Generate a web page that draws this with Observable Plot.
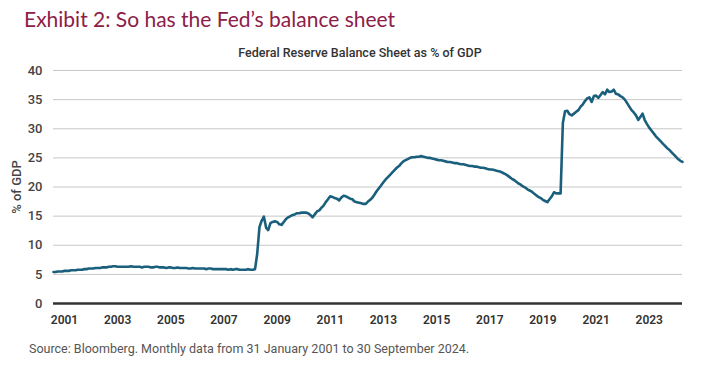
<!DOCTYPE html>
<html>
<head>
<meta charset="utf-8">
<script src="https://cdn.jsdelivr.net/npm/d3@7"></script>
<script src="https://cdn.jsdelivr.net/npm/@observablehq/plot@0.6"></script>
<style>
  html, body { margin: 0; padding: 0; background: #fff; }
  #wrap { position: relative; width: 702px; height: 376px; overflow: hidden; font-family: Roboto, "Noto Sans", sans-serif; }
  #title { position: absolute; left: 24px; top: 6px; font-family: Lato, Roboto, sans-serif; font-size: 21px; color: #8c2047; white-space: nowrap; }
  #subtitle { position: absolute; left: 0; width: 720px; top: 45px; text-align: center; font-size: 12.5px; font-weight: 500; color: #333; white-space: nowrap; }
  #chart { position: absolute; left: 0; top: 62px; }
  #source { position: absolute; left: 29px; top: 341px; font-size: 12.5px; color: #555; white-space: nowrap; }
</style>
</head>
<body>
<div id="wrap">
  <div id="title">Exhibit 2: So has the Fed’s balance sheet</div>
  <div id="subtitle">Federal Reserve Balance Sheet as % of GDP</div>
  <div id="chart"></div>
  <div id="source">Source: Bloomberg. Monthly data from 31 January 2001 to 30 September 2024.</div>
</div>
<script>
// Federal Reserve balance sheet, % of GDP, month-end values Jan 2001 .. Sep 2024
const startYear = 2001;
const values2001 = [5.4,5.4,5.5,5.5,5.5,5.6,5.6,5.6,5.7,5.7,5.7,5.8];
const values2002 = [5.8,5.8,5.9,5.9,6.0,6.0,6.0,6.1,6.1,6.1,6.2,6.2];
const values2003 = [6.2,6.3,6.3,6.4,6.4,6.3,6.3,6.3,6.3,6.3,6.3,6.4];
const values2004 = [6.3,6.3,6.3,6.3,6.2,6.3,6.3,6.3,6.2,6.2,6.3,6.3];
const values2005 = [6.2,6.2,6.2,6.1,6.2,6.2,6.1,6.1,6.2,6.1,6.1,6.1];
const values2006 = [6.1,6.0,6.0,6.1,6.0,6.0,6.0,6.0,6.0,5.9,6.0,6.0];
const values2007 = [5.9,5.9,5.9,5.9,5.9,5.9,5.9,5.8,5.9,5.8,5.9,5.9];
const values2008 = [5.8,5.8,5.8,5.8,5.9,5.8,5.8,5.9,8.5,13.1,14.2,14.9];
const values2009 = [13.0,12.6,13.8,14.0,14.1,14.0,13.6,13.5,14.0,14.5,14.8,15.0];
const values2010 = [15.2,15.3,15.5,15.5,15.6,15.6,15.6,15.5,15.2,14.8,15.3,15.8];
const values2011 = [16.0,16.4,16.8,17.4,17.9,18.4,18.3,18.1,18.0,17.7,18.2,18.5];
const values2012 = [18.4,18.2,18.0,17.9,17.5,17.4,17.3,17.2,17.1,17.1,17.5,17.8];
const values2013 = [18.2,18.7,19.3,19.8,20.3,20.8,21.3,21.7,22.1,22.5,22.9,23.3];
const values2014 = [23.6,24.0,24.4,24.6,24.8,25.0,25.1,25.1,25.2,25.2,25.3,25.2];
const values2015 = [25.1,25.0,25.0,24.9,24.8,24.7,24.6,24.6,24.5,24.4,24.3,24.3];
const values2016 = [24.2,24.1,24.1,24.0,23.9,23.9,23.8,23.7,23.6,23.6,23.5,23.5];
const values2017 = [23.4,23.3,23.3,23.2,23.1,23.0,23.0,22.9,22.8,22.7,22.6,22.4];
const values2018 = [22.2,22.0,21.7,21.4,21.2,20.9,20.6,20.4,20.1,19.9,19.6,19.4];
const values2019 = [19.2,18.9,18.6,18.3,18.1,17.8,17.6,17.4,17.9,18.4,19.1,18.9];
const values2020 = [18.9,18.9,31.0,33.0,33.1,32.5,32.3,32.6,32.9,33.2,33.8,34.2];
const values2021 = [34.8,35.2,35.4,34.6,35.6,35.7,35.3,35.8,36.3,35.9,36.7,36.3];
const values2022 = [36.4,36.7,36.0,35.9,35.6,35.4,35.0,34.4,33.8,33.2,32.8,32.3];
const values2023 = [31.5,32.0,32.6,31.5,30.8,30.2,29.7,29.2,28.7,28.3,27.9,27.5];
const values2024 = [27.1,26.7,26.4,26.0,25.6,25.2,24.8,24.5,24.3];

const yTicks = [0, 5, 10, 15, 20, 25, 30, 35, 40];
const xTickLabels = ["2001","2003","2005","2007","2009","2011","2013","2015","2017","2019","2021","2023"];

const allValues = [].concat(values2001, values2002, values2003, values2004, values2005, values2006,
  values2007, values2008, values2009, values2010, values2011, values2012, values2013, values2014,
  values2015, values2016, values2017, values2018, values2019, values2020, values2021, values2022,
  values2023, values2024);

// month-end dates
const data = allValues.map((v, i) => ({
  date: new Date(Date.UTC(startYear, i + 1, 0)),
  value: v
}));
const xTicks = xTickLabels.map(s => new Date(Date.UTC(+s, 6, 1)));

const chart = Plot.plot({
  width: 702,
  height: 275,
  marginTop: 8,
  marginBottom: 34,
  marginLeft: 53,
  marginRight: 20,
  style: { fontFamily: "Roboto, sans-serif", background: "transparent", overflow: "visible" },
  x: { type: "utc", domain: d3.extent(data, d => d.date) },
  y: { domain: [0, 40] },
  marks: [
    Plot.gridY(yTicks.filter(d => d > 0), { stroke: "#c8c8c8", strokeOpacity: 1, strokeWidth: 1 }),
    Plot.axisY(yTicks, {
      tickSize: 0, tickPadding: 11, fontSize: 13, fontWeight: 500, fill: "#444",
      label: "% of GDP", labelAnchor: "center", labelOffset: 42, labelArrow: "none"
    }),
    Plot.axisX(xTicks, {
      tickSize: 0, tickPadding: 12, fontSize: 12, fontWeight: 600, fill: "#333",
      tickFormat: d => String(d.getUTCFullYear()), label: null
    }),
    Plot.ruleY([0], { stroke: "#333", strokeWidth: 2.5 }),
    Plot.lineY(data, { x: "date", y: "value", stroke: "#1a5f7c", strokeWidth: 2.6, strokeLinejoin: "round" })
  ]
});
document.getElementById("chart").appendChild(chart);
</script>
</body>
</html>
